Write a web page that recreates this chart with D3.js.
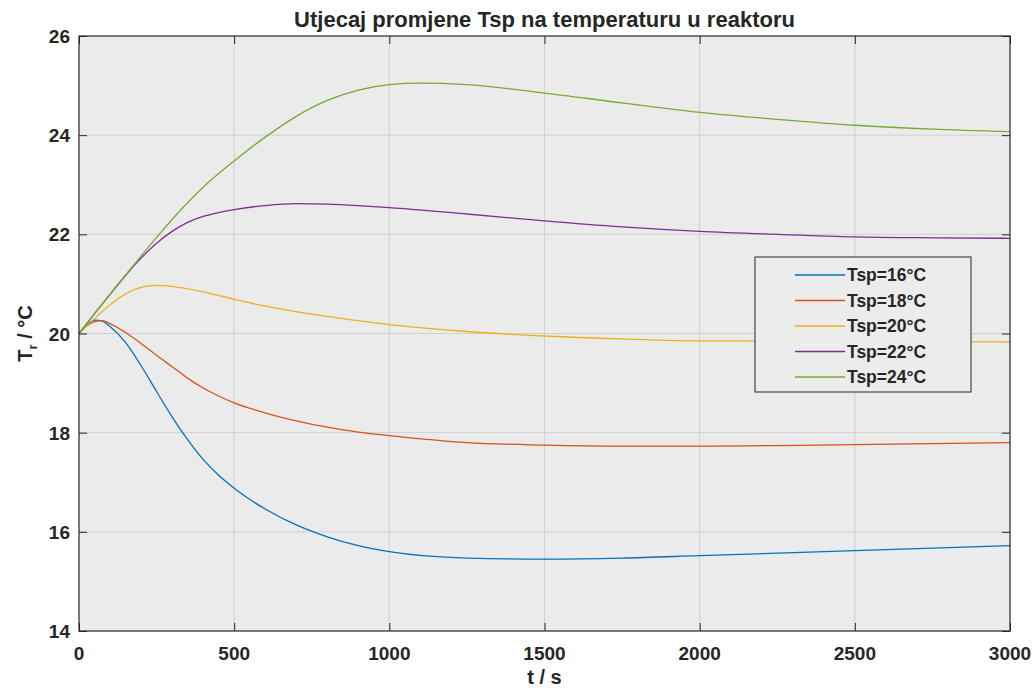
<!DOCTYPE html>
<html><head><meta charset="utf-8">
<script src="https://cdn.jsdelivr.net/npm/d3@7"></script>
<style>body{margin:0;background:#fff}svg{display:block}text{font-family:"Liberation Sans",Arial,sans-serif;font-weight:bold;fill:#262626}</style>
</head><body><svg id="c" width="1036" height="688"></svg>
<script>
const xTicks = [0, 500, 1000, 1500, 2000, 2500, 3000];
const yTicks = [14, 16, 18, 20, 22, 24, 26];
const seriesNames = ["Tsp=16°C", "Tsp=18°C", "Tsp=20°C", "Tsp=22°C", "Tsp=24°C"];
const seriesColors = ["#0072BD", "#D95319", "#EDB120", "#7E2F8E", "#77AC30"];
const t16 = [0,25,50,75,100,150,200,250,300,350,400,450,500,600,700,800,900,1000,1250,1500,1750,2000,2500,3000];
const y16 = [20,20.17,20.27,20.25,20.14,19.82,19.35,18.83,18.32,17.86,17.46,17.14,16.88,16.46,16.14,15.9,15.72,15.6,15.47,15.45,15.47,15.52,15.62,15.72];
const t18 = [0,25,50,75,100,150,200,250,300,350,400,450,500,600,700,800,900,1000,1250,1500,1750,2000,2500,3000];
const y18 = [20,20.15,20.24,20.26,20.2,20.02,19.8,19.56,19.33,19.1,18.9,18.74,18.6,18.4,18.24,18.11,18.01,17.94,17.8,17.75,17.73,17.73,17.76,17.8];
const t20 = [0,50,100,150,200,250,300,400,500,600,750,1000,1250,1500,1750,2000,2500,3000];
const y20 = [20,20.3,20.58,20.8,20.93,20.97,20.95,20.84,20.69,20.55,20.39,20.18,20.04,19.95,19.89,19.85,19.84,19.83];
const t22 = [0,50,100,150,200,250,300,350,400,450,500,600,700,800,900,1000,1250,1500,1750,2000,2250,2500,2750,3000];
const y22 = [20,20.4,20.79,21.17,21.52,21.82,22.06,22.24,22.36,22.44,22.5,22.58,22.62,22.61,22.58,22.54,22.41,22.27,22.15,22.06,22.0,21.95,21.93,21.92];
const t24 = [0,50,100,150,200,250,300,400,500,600,700,800,900,1000,1100,1250,1500,1750,2000,2250,2500,2750,3000];
const y24 = [20,20.4,20.79,21.18,21.56,21.94,22.3,22.95,23.48,23.96,24.38,24.7,24.91,25.02,25.05,25.02,24.85,24.65,24.46,24.32,24.2,24.12,24.07];

const allT = [t16, t18, t20, t22, t24];
const allY = [y16, y18, y20, y22, y24];

const svg = d3.select("#c");
const L = 79, R = 1010, T = 36, B = 631;
const x = d3.scaleLinear().domain([0, 3000]).range([L, R]);
const y = d3.scaleLinear().domain([14, 26]).range([B, T]);

svg.append("rect").attr("x", L).attr("y", T).attr("width", R - L).attr("height", B - T).attr("fill", "#ebebeb");

// grid
svg.append("g").selectAll("line").data(xTicks.slice(1, -1)).join("line")
  .attr("x1", d => x(d)).attr("x2", d => x(d)).attr("y1", T).attr("y2", B)
  .attr("stroke", "#d0d0d0").attr("stroke-width", 1);
svg.append("g").selectAll("line").data(yTicks.slice(1, -1)).join("line")
  .attr("y1", d => y(d)).attr("y2", d => y(d)).attr("x1", L).attr("x2", R)
  .attr("stroke", "#d0d0d0").attr("stroke-width", 1);

// lines
const line = d3.line().curve(d3.curveMonotoneX).x(d => x(d[0])).y(d => y(d[1]));
allT.forEach((ts, i) => {
  svg.append("path").datum(ts.map((t, j) => [t, allY[i][j]]))
    .attr("d", line).attr("fill", "none").attr("stroke", seriesColors[i]).attr("stroke-width", 1.3);
});

// axes
const tickStyle = g => { g.select(".domain").remove(); g.selectAll("line").attr("stroke", "#262626"); g.selectAll("text").remove(); };
svg.append("g").attr("transform", `translate(0,${B})`).call(d3.axisTop(x).tickValues(xTicks).tickSize(8)).call(tickStyle);
svg.append("g").attr("transform", `translate(0,${T})`).call(d3.axisBottom(x).tickValues(xTicks).tickSize(8)).call(tickStyle);
svg.append("g").attr("transform", `translate(${L},0)`).call(d3.axisRight(y).tickValues(yTicks).tickSize(8)).call(tickStyle);
svg.append("g").attr("transform", `translate(${R},0)`).call(d3.axisLeft(y).tickValues(yTicks).tickSize(8)).call(tickStyle);
svg.append("rect").attr("x", L).attr("y", T).attr("width", R - L).attr("height", B - T)
  .attr("fill", "none").attr("stroke", "#262626").attr("stroke-width", 1.2);

// tick labels
svg.append("g").selectAll("text").data(xTicks).join("text")
  .attr("x", d => x(d)).attr("y", 660).attr("text-anchor", "middle").attr("font-size", 19).text(d => d);
svg.append("g").selectAll("text").data(yTicks).join("text")
  .attr("x", 70).attr("y", d => y(d) + 7).attr("text-anchor", "end").attr("font-size", 19).text(d => d);

// titles
svg.append("text").attr("x", (L + R) / 2).attr("y", 27).attr("text-anchor", "middle").attr("font-size", 22)
  .text("Utjecaj promjene Tsp na temperaturu u reaktoru");
svg.append("text").attr("x", (L + R) / 2).attr("y", 684).attr("text-anchor", "middle").attr("font-size", 20).text("t / s");
const yl = svg.append("text").attr("transform", `translate(32,${(T + B) / 2}) rotate(-90)`).attr("text-anchor", "middle").attr("font-size", 20);
yl.append("tspan").text("T");
yl.append("tspan").attr("font-size", 13).attr("dy", 5).text("r");
yl.append("tspan").attr("dy", -5).text(" / °C");

// legend
const lg = svg.append("g");
lg.append("rect").attr("x", 755).attr("y", 257).attr("width", 216).attr("height", 135)
  .attr("fill", "#ececec").attr("stroke", "#262626").attr("stroke-width", 1);
seriesNames.forEach((n, i) => {
  const yy = 275 + i * 25.5;
  lg.append("line").attr("x1", 795).attr("x2", 845).attr("y1", yy).attr("y2", yy).attr("stroke", seriesColors[i]).attr("stroke-width", 1.3);
  lg.append("text").attr("x", 847).attr("y", yy + 6).attr("font-size", 17.5).text(n);
});
</script></body></html>
